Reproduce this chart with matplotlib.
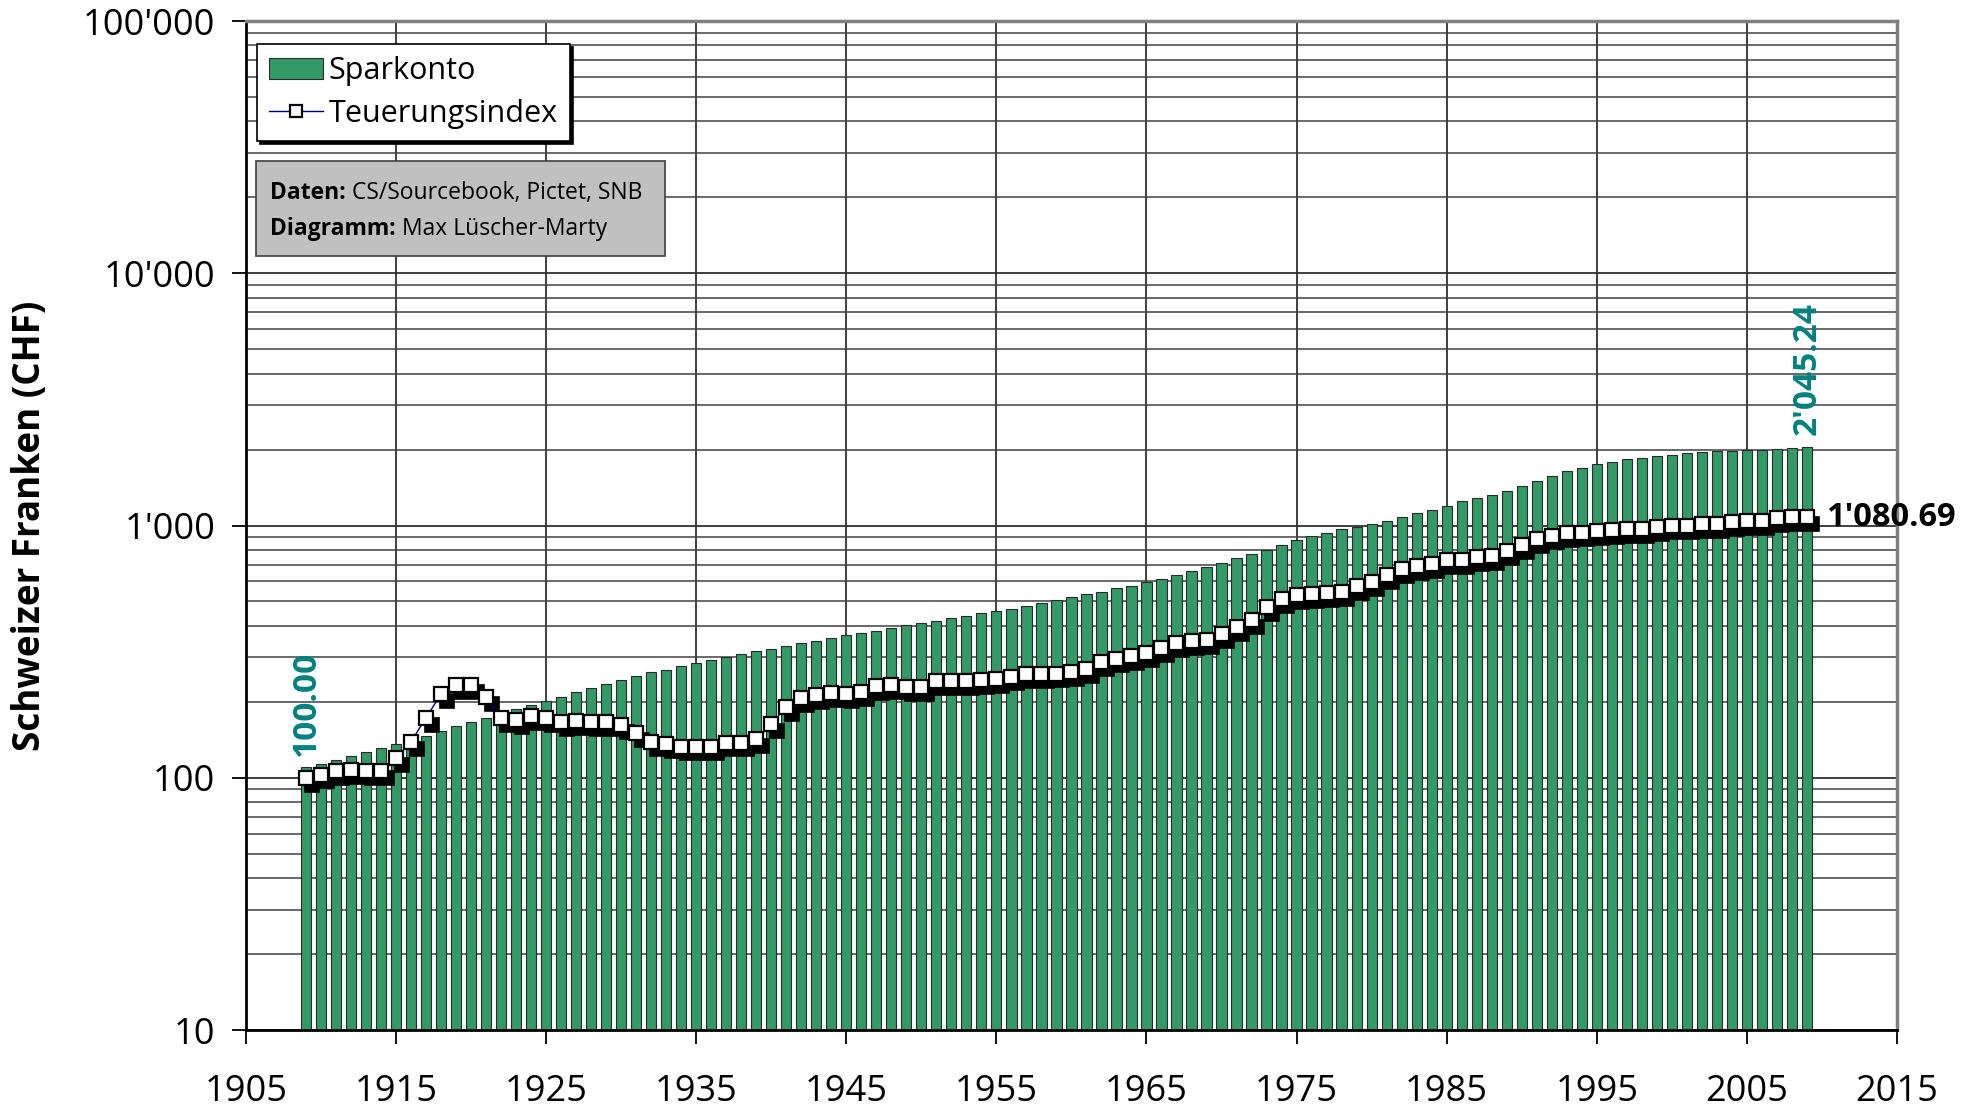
import matplotlib
matplotlib.use("Agg")
import matplotlib.pyplot as plt
import matplotlib.transforms as mtransforms
from matplotlib.patches import Patch, Rectangle
from matplotlib.lines import Line2D
from matplotlib.ticker import FixedLocator, FuncFormatter, LogLocator, NullFormatter

plt.rcParams["font.family"] = ["Open Sans", "DejaVu Sans"]

# Jahre 1909-2009
years = list(range(1909, 2010))

# Sparkonto (CHF), Startwert 100 im Jahr 1909
sparkonto = [
    100, 103.5, 107.5, 112, 116.5, 121, 126, 131, 137, 143,      # 1909-1918
    150, 157, 163, 170, 177, 184, 192, 200, 208, 217,            # 1919-1928
    226, 235, 244, 252, 258, 267, 275, 283, 291, 300,            # 1929-1938
    307, 314, 324, 332, 340, 348, 357, 365, 372, 382,            # 1939-1948
    392, 400, 409, 419, 428, 438, 448, 458, 469, 483,            # 1949-1958
    495, 510, 526, 536, 553, 567, 586, 603, 627, 650,            # 1959-1968
    674, 699, 732, 759, 789, 826, 870, 903, 927, 958,            # 1969-1978
    979, 1000, 1035, 1069, 1112, 1146, 1185, 1236, 1270, 1310,   # 1979-1988
    1362, 1422, 1489, 1557, 1630, 1685, 1738, 1780, 1819, 1841,  # 1989-1998
    1870, 1892, 1921, 1945, 1956, 1965, 1975, 1990, 2005, 2020,  # 1999-2008
    2045.24,                                                     # 2009
]

# Teuerungsindex, 1909 = 100
teuerung = [
    100, 103, 106, 107.5, 106, 106, 120, 139, 173, 215,          # 1909-1918
    233, 233, 209, 172, 170, 175, 173, 167, 168, 167,            # 1919-1928
    167, 162, 150, 139, 136, 133, 133, 133, 138, 138,            # 1929-1938
    142, 163, 191, 207, 212, 216, 215, 219, 232, 233,            # 1939-1948
    229, 229, 242, 242, 242, 245, 247, 252, 257, 258,            # 1949-1958
    259, 263, 271, 287, 297, 303, 313, 327, 341, 348,            # 1959-1968
    353, 373, 396, 421, 474, 512, 529, 537, 540, 545,            # 1969-1978
    574, 597, 634, 674, 689, 706, 732, 732, 747, 756,            # 1979-1988
    794, 834, 886, 913, 933, 938, 953, 962, 970, 970,            # 1989-1998
    985, 1000, 1000, 1012, 1015, 1030, 1044, 1044, 1069, 1078,   # 1999-2008
    1080.69,                                                     # 2009
]

x_ticks = list(range(1905, 2016, 10))
y_ticks = [10, 100, 1000, 10000, 100000]

GREEN = "#339966"
TEAL = "#008080"


def swiss_fmt(v, pos=None):
    return f"{int(round(v)):,}".replace(",", "'")


def main():
    fig = plt.figure(figsize=(19.77, 11.12), dpi=100)
    ax = fig.add_axes([0.1244, 0.0737, 0.8351, 0.9074])

    ax.set_yscale("log")
    ax.set_ylim(10, 100000)
    ax.set_xlim(1905, 2015)

    # Gitter
    ax.set_axisbelow(True)
    ax.yaxis.set_major_locator(FixedLocator(y_ticks))
    ax.yaxis.set_minor_locator(LogLocator(base=10, subs=range(2, 10)))
    ax.yaxis.set_major_formatter(FuncFormatter(swiss_fmt))
    ax.yaxis.set_minor_formatter(NullFormatter())
    ax.xaxis.set_major_locator(FixedLocator(x_ticks))
    ax.grid(True, which="major", axis="both", color="#303030", lw=1.3)
    ax.grid(True, which="minor", axis="y", color="#404040", lw=1.1)

    # Balken Sparkonto
    ax.bar(years, sparkonto, width=0.68, bottom=10, color=GREEN,
           edgecolor="#2a2a2a", linewidth=0.8, zorder=2)

    # Teuerungsindex mit Schatten
    shadow = mtransforms.offset_copy(ax.transData, fig=fig, x=4, y=-5, units="points")
    ax.plot(years, teuerung, linestyle="none", marker="s", markersize=9.5,
            markerfacecolor="black", markeredgecolor="black", markeredgewidth=1.2,
            transform=shadow, zorder=3)
    ax.plot(years, teuerung, color="#000080", lw=1.0, marker="s", markersize=9.5,
            markerfacecolor="white", markeredgecolor="black", markeredgewidth=1.6,
            zorder=4)

    # Werte beschriften
    ax.annotate("100.00", xy=(years[0], sparkonto[0]), xytext=(0, 16),
                textcoords="offset points", rotation=90, ha="center", va="bottom",
                color=TEAL, fontsize=24, fontweight="bold")
    ax.annotate("2'045.24", xy=(years[-1], sparkonto[-1]), xytext=(0, 9),
                textcoords="offset points", rotation=90, ha="center", va="bottom",
                color=TEAL, fontsize=24, fontweight="bold")
    ax.annotate("1'080.69", xy=(years[-1], teuerung[-1]), xytext=(14, 0),
                textcoords="offset points", ha="left", va="center",
                color="black", fontsize=23.5, fontweight="bold", annotation_clip=False)

    # Achsen
    ax.tick_params(axis="y", which="major", direction="out", length=10, width=1.3,
                   pad=12, labelsize=26)
    ax.tick_params(axis="y", which="minor", length=0)
    ax.tick_params(axis="x", which="major", direction="out", length=10, width=1.3,
                   pad=22, labelsize=26)
    ax.set_ylabel("Schweizer Franken (CHF)", fontsize=26.5, fontweight="bold")
    ax.yaxis.set_label_coords(-0.119, 0.5)

    for side in ("left", "bottom"):
        ax.spines[side].set_color("black")
        ax.spines[side].set_linewidth(2)
    for side in ("top", "right"):
        ax.spines[side].set_color("#808080")
        ax.spines[side].set_linewidth(2.5)

    # Legende
    handles = [
        Patch(facecolor=GREEN, edgecolor="#2a2a2a", linewidth=0.8),
        Line2D([], [], color="#000080", lw=1.0, marker="s", markersize=9,
               markerfacecolor="white", markeredgecolor="black", markeredgewidth=1.6),
    ]
    leg = ax.legend(handles, ["Sparkonto", "Teuerungsindex"], loc="upper left",
                    bbox_to_anchor=(0.0067, 0.977), fontsize=22, frameon=True,
                    fancybox=False, shadow={"color": "black", "alpha": 1},
                    borderpad=0.4, handlelength=1.75, handletextpad=0.2,
                    labelspacing=0.4, borderaxespad=0)
    leg.get_frame().set_edgecolor("black")
    leg.get_frame().set_linewidth(1.2)
    leg.set_zorder(10)

    # Quellenbox
    ax.add_patch(Rectangle((0.006, 0.767), 0.248, 0.094, transform=ax.transAxes,
                           facecolor="#c0c0c0", edgecolor="#404040", lw=1.2,
                           zorder=10))
    for y, bold, rest in [(0.824, "Daten:", " CS/Sourcebook, Pictet, SNB"),
                          (0.788, "Diagramm:", " Max Lüscher-Marty")]:
        t = ax.text(0.0145, y, bold, transform=ax.transAxes, fontsize=16.5,
                    fontweight="bold", va="baseline", zorder=11)
        ax.annotate(rest, xy=(1, 0), xycoords=t, fontsize=16.5, va="bottom",
                    ha="left", zorder=11)

    fig.savefig("out.png", dpi=100)
    plt.close(fig)


if __name__ == "__main__":
    main()
